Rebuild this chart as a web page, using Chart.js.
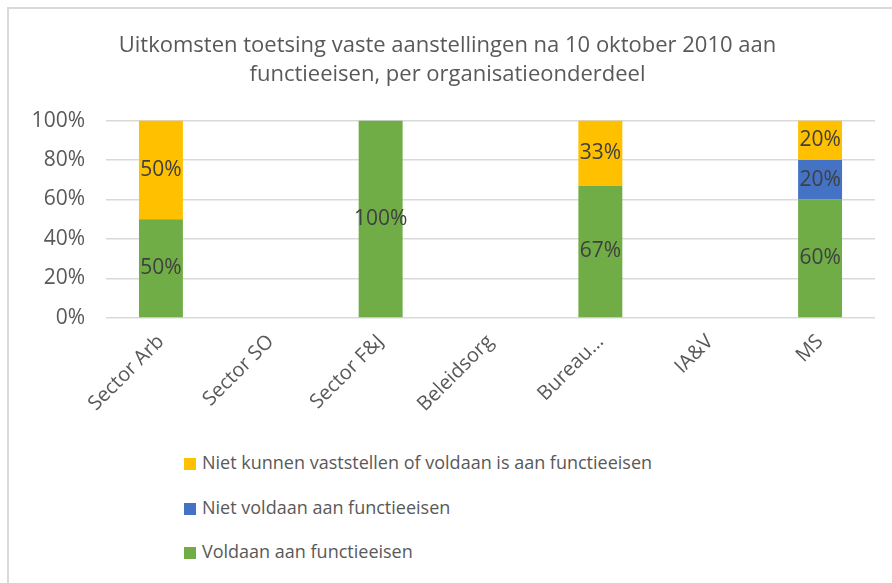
<!DOCTYPE html>
<html>
<head>
<meta charset="utf-8">
<script src="https://cdn.jsdelivr.net/npm/chart.js@4/dist/chart.umd.min.js"></script>
<style>
  body { margin: 0; background: #fff; width: 892px; height: 583px; overflow: hidden; position: relative; }
  #frame { position: absolute; left: 7px; top: 7px; width: 900px; height: 600px; border-top: 2px solid #d9d9d9; border-left: 2px solid #d9d9d9; }
  #chart { position: absolute; left: 0; top: 0; }
  #legend { position: absolute; left: 184px; top: 447px; font-family: "Open Sans", sans-serif; font-size: 18px; color: #595959; }
  #legend div { height: 44.5px; line-height: 30px; white-space: nowrap; }
  #legend span { display: inline-block; width: 12px; height: 12px; margin-right: 6px; vertical-align: -1px; }
</style>
</head>
<body>
<div id="frame"></div>
<canvas id="chart" width="892" height="430"></canvas>
<div id="legend"></div>
<script>
  'use strict'

  var categories = ['Sector Arb', 'Sector SO', 'Sector F&J', 'Beleidsorg', 'Bureau…', 'IA&V', 'MS'];
  var voldaan = [50, 0, 100, 0, 67, 0, 60];
  var nietVoldaan = [0, 0, 0, 0, 0, 0, 20];
  var nietVastgesteld = [50, 0, 0, 0, 33, 0, 20];
  var titleLines = ['Uitkomsten toetsing vaste aanstellingen na 10 oktober 2010 aan', 'functieeisen, per organisatieonderdeel'];

  var fontFamily = '"Open Sans", sans-serif';
  var textColor = '#595959';

  // percentages in the middle of each segment
  var segmentLabels = {
    id: 'segmentLabels',
    afterDatasetsDraw: function (chart) {
      var ctx = chart.ctx;
      ctx.save();
      ctx.font = '21px ' + fontFamily;
      ctx.fillStyle = '#404040';
      ctx.textAlign = 'center';
      ctx.textBaseline = 'middle';
      chart.data.datasets.forEach(function (ds, i) {
        var meta = chart.getDatasetMeta(i);
        meta.data.forEach(function (bar, j) {
          var v = ds.data[j];
          if (!v) return;
          ctx.fillText(v + '%', bar.x, (bar.y + bar.base) / 2);
        });
      });
      ctx.restore();
    }
  };

  var chart = new Chart(document.getElementById('chart'), {
    type: 'bar',
    data: {
      labels: categories,
      datasets: [
        { label: 'Voldaan aan functieeisen', data: voldaan, backgroundColor: '#70AD47' },
        { label: 'Niet voldaan aan functieeisen', data: nietVoldaan, backgroundColor: '#4472C4' },
        { label: 'Niet kunnen vaststellen of voldaan is aan functieeisen', data: nietVastgesteld, backgroundColor: '#FFC000' }
      ]
    },
    options: {
      responsive: false,
      animation: false,
      layout: { padding: { top: 0, left: 20, right: 17, bottom: 0 } },
      datasets: { bar: { categoryPercentage: 0.4, barPercentage: 1 } },
      scales: {
        x: {
          stacked: true,
          grid: { display: false, drawTicks: false },
          border: { display: false },
          ticks: {
            minRotation: 45, maxRotation: 45, padding: 12,
            color: textColor, font: { family: fontFamily, size: 20 }
          },
          afterFit: function (scale) { scale.height = 112; }
        },
        y: {
          stacked: true,
          min: 0, max: 100,
          grid: { color: '#d9d9d9', lineWidth: 1.5, drawTicks: false },
          border: { display: false },
          ticks: {
            stepSize: 20, padding: 21,
            color: textColor, font: { family: fontFamily, size: 21 },
            callback: function (v) { return v + '%'; }
          },
          afterFit: function (scale) { scale.width = 86; }
        }
      },
      plugins: {
        legend: { display: false },
        tooltip: { enabled: false },
        title: {
          display: true,
          text: titleLines,
          color: textColor,
          font: { family: fontFamily, size: 22, weight: 'normal', lineHeight: 1.33 },
          padding: { top: 31, bottom: 31 }
        }
      }
    },
    plugins: [segmentLabels]
  });

  // legend as a vertical list, top item is the top of the stack
  var legend = document.getElementById('legend');
  chart.data.datasets.slice().reverse().forEach(function (ds) {
    var row = document.createElement('div');
    var box = document.createElement('span');
    box.style.background = ds.backgroundColor;
    row.appendChild(box);
    row.appendChild(document.createTextNode(ds.label));
    legend.appendChild(row);
  });
</script>
</body>
</html>
